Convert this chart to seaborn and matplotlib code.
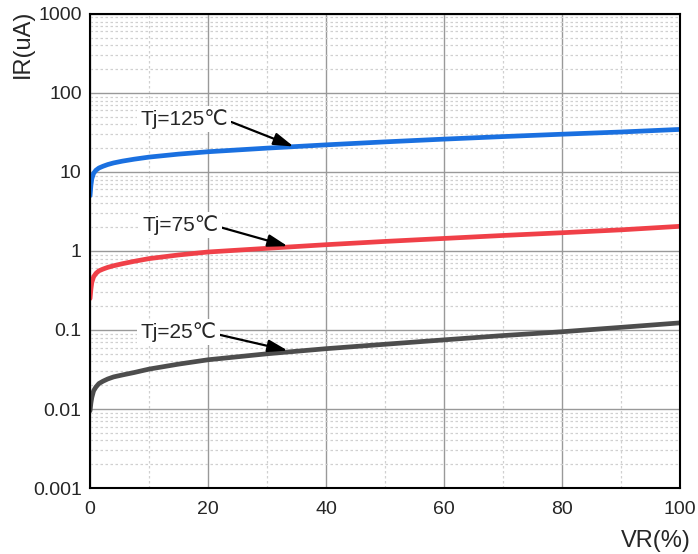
import numpy as np
import matplotlib.pyplot as plt
import seaborn as sns
import pandas as pd
from matplotlib.ticker import FixedLocator, NullFormatter

# values
vr = [0, 0.15, 0.3, 0.6, 1.0, 1.5, 2.2, 3, 4, 5.5, 7.5, 10, 15, 20, 30, 40, 50, 60, 70, 80, 90, 100]
ir_125 = [5.0, 6.8, 8.2, 9.6, 10.5, 11.2, 11.8, 12.4, 13.0, 13.7, 14.5, 15.4, 16.8, 18.0, 20.0, 22.0, 24.0, 26.0, 28.0, 30.0, 32.0, 34.5]
ir_75 = [0.25, 0.33, 0.40, 0.47, 0.52, 0.56, 0.59, 0.62, 0.65, 0.69, 0.74, 0.80, 0.89, 0.97, 1.08, 1.20, 1.32, 1.44, 1.57, 1.70, 1.85, 2.05]
ir_25 = [0.0095, 0.012, 0.014, 0.017, 0.019, 0.021, 0.0225, 0.024, 0.0255, 0.027, 0.029, 0.032, 0.037, 0.042, 0.050, 0.058, 0.066, 0.075, 0.085, 0.095, 0.108, 0.123]
labels = ["Tj=125℃", "Tj=75℃", "Tj=25℃"]
colors = ["#1a70e0", "#f04048", "#4d4d4d"]

df = pd.concat([
    pd.DataFrame({"VR": vr, "IR": ir_125, "Tj": labels[0]}),
    pd.DataFrame({"VR": vr, "IR": ir_75, "Tj": labels[1]}),
    pd.DataFrame({"VR": vr, "IR": ir_25, "Tj": labels[2]}),
])

sns.set_style("white")
plt.rcParams['font.family'] = ['Liberation Sans', 'DejaVu Sans']

fig = plt.figure(figsize=(6.98, 5.54), dpi=100)
ax = fig.add_axes([0.129, 0.119, 0.845, 0.856])
sns.lineplot(data=df, x="VR", y="IR", hue="Tj", palette=colors,
             linewidth=3.4, legend=False, ax=ax)
ax.set_yscale("log")
ax.set_xlim(0, 100)
ax.set_ylim(0.001, 1000)

ax.set_xticks([0, 20, 40, 60, 80, 100])
ax.xaxis.set_minor_locator(FixedLocator([10, 30, 50, 70, 90]))
ax.set_yticks([0.001, 0.01, 0.1, 1, 10, 100, 1000])
ax.set_yticklabels(["0.001", "0.01", "0.1", "1", "10", "100", "1000"])
ax.yaxis.set_minor_locator(FixedLocator(
    [m * 10.0 ** e for e in range(-3, 3) for m in range(2, 10)]))
ax.yaxis.set_minor_formatter(NullFormatter())
ax.grid(which="major", color="#999999", linewidth=1.0, linestyle="-")
ax.grid(which="minor", color="#d0d0d0", linewidth=0.9, linestyle=(0, (2, 2)))
ax.set_axisbelow(True)
ax.tick_params(axis="y", which="major", labelsize=14, length=0, pad=6)
ax.tick_params(axis="x", which="major", labelsize=14, length=0, pad=9)
ax.tick_params(which="minor", length=0)
for s in ax.spines.values():
    s.set_color("black")
    s.set_linewidth(1.5)

ax.set_xlabel("")
ax.set_ylabel("")
fig.text(0.033, 0.982, "IR(uA)", rotation=90, fontsize=17, ha="center", va="top")
fig.text(0.99, 0.004, "VR(%)", fontsize=17, ha="right", va="bottom")

# annotations: (text x, text y, arrow x, arrow y)
notes = [(16, 47, 34.5, 21.0), (15.3, 2.15, 33.5, 1.15), (15, 0.094, 33.5, 0.055)]
for lab, (tx, ty, ax_, ay) in zip(labels, notes):
    ax.annotate(lab, xy=(ax_, ay), xytext=(tx, ty), fontsize=15,
                ha="center", va="center",
                bbox=dict(boxstyle="square,pad=0.15", fc="white", ec="none"),
                arrowprops=dict(arrowstyle="-|>,head_length=0.8,head_width=0.25",
                                color="black", lw=1.6, shrinkA=0, shrinkB=0,
                                relpos=(1.0, 0.4)))

fig.savefig("out.png", dpi=100)
